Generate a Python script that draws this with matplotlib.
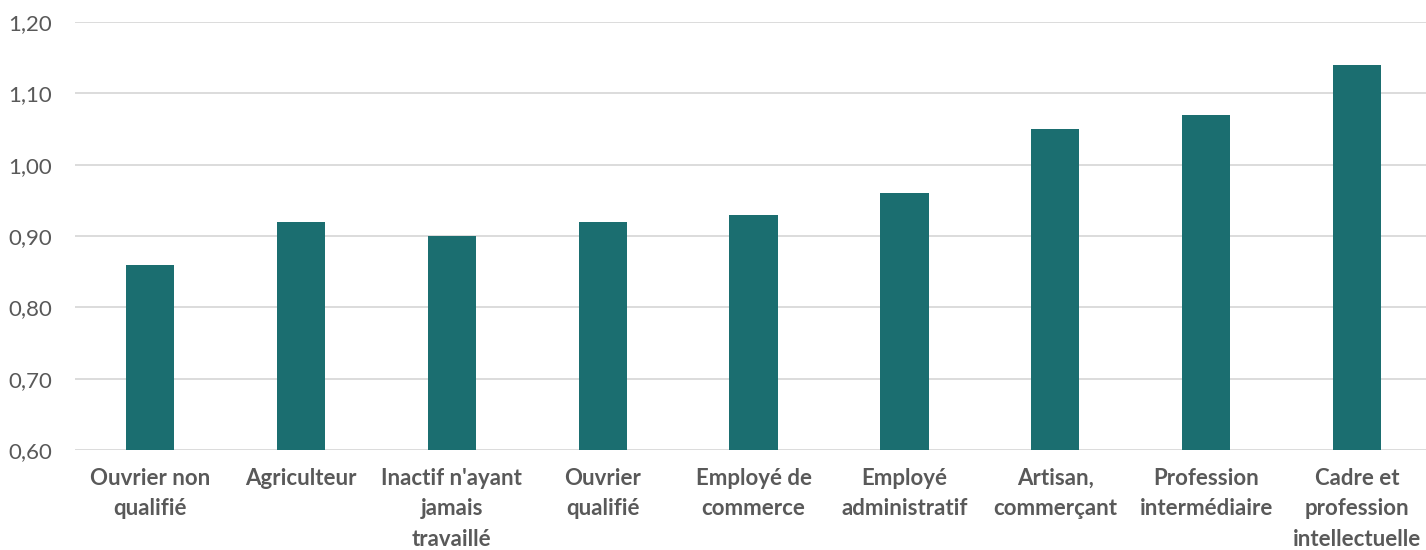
import matplotlib
matplotlib.use("Agg")
import matplotlib.pyplot as plt
import numpy as np
from matplotlib.ticker import FuncFormatter, MultipleLocator

plt.rcParams['font.family'] = ['Lato', 'DejaVu Sans']

# categories (line breaks as shown under the bars)
categories = [
    "Ouvrier non\nqualifié",
    "Agriculteur",
    "Inactif n'ayant\njamais\ntravaillé",
    "Ouvrier\nqualifié",
    "Employé de\ncommerce",
    "Employé\nadministratif",
    "Artisan,\ncommerçant",
    "Profession\nintermédiaire",
    "Cadre et\nprofession\nintellectuelle",
]
values = [0.86, 0.92, 0.90, 0.92, 0.93, 0.96, 1.05, 1.07, 1.14]

bar_color = "#1b6e70"
text_color = "#595959"
grid_color = "#d9d9d9"

fig = plt.figure(figsize=(14.26, 5.5), dpi=100)
ax = fig.add_axes([0.0523, 0.1818, 0.9523, 0.778])

x = np.arange(len(categories))
ax.bar(x, np.array(values) - 0.6, bottom=0.6, width=0.32, color=bar_color,
       zorder=3)

ax.set_xlim(-0.5, len(categories) - 0.5)
ax.set_ylim(0.6, 1.2)
ax.yaxis.set_major_locator(MultipleLocator(0.1))
ax.yaxis.set_major_formatter(FuncFormatter(lambda v, p: f"{v:.2f}".replace(".", ",")))
ax.grid(axis="y", color=grid_color, linewidth=1.3, zorder=0)

for s in ax.spines.values():
    s.set_visible(False)
ax.tick_params(axis="both", length=0, colors=text_color, labelsize=16)
ax.tick_params(axis="y", pad=16)
ax.tick_params(axis="x", pad=13)
ax.set_xticks(x)
ax.set_xticklabels(categories, fontweight="bold", linespacing=1.55)

fig.savefig("out.png", dpi=100, facecolor="white")
